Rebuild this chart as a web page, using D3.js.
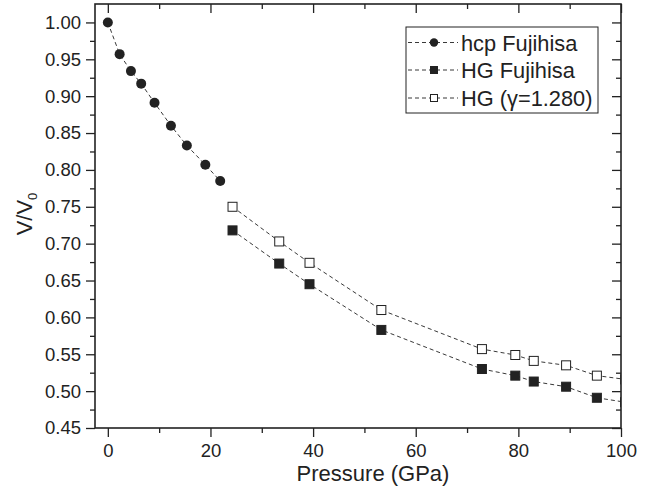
<!DOCTYPE html>
<html><head><meta charset="utf-8">
<script src="https://cdn.jsdelivr.net/npm/d3@7/dist/d3.min.js"></script>
<style>
html,body{margin:0;padding:0;background:#fff;}
text{font-family:"Liberation Sans",Arial,Helvetica,sans-serif;fill:#222;}
</style></head>
<body>
<script>
// Data
const hcpP = [0, 2.3, 4.5, 6.5, 9.1, 12.3, 15.4, 19.0, 21.9];
const hcpV = [1.000, 0.957, 0.934, 0.917, 0.891, 0.860, 0.833, 0.807, 0.785];
const hgP = [24.3, 33.4, 39.3, 53.3, 72.9, 79.4, 83.0, 89.3, 95.3, 100.8];
const hgV = [0.718, 0.673, 0.645, 0.583, 0.530, 0.521, 0.513, 0.506, 0.491, 0.485];
const hggP = [24.3, 33.4, 39.3, 53.3, 72.9, 79.4, 83.0, 89.3, 95.3, 100.8];
const hggV = [0.750, 0.703, 0.674, 0.610, 0.557, 0.549, 0.541, 0.535, 0.521, 0.516];
const xTicks = [0, 20, 40, 60, 80, 100];
const yTicks = [0.45, 0.50, 0.55, 0.60, 0.65, 0.70, 0.75, 0.80, 0.85, 0.90, 0.95, 1.00];
const legendLabels = ["hcp Fujihisa", "HG Fujihisa", "HG (\u03b3=1.280)"];

const W = 659, H = 490;
const L = 95, R = 621, T = 4, B = 428;
const ink = "#222";

const svg = d3.select("body").append("svg").attr("width", W).attr("height", H);
const x = d3.scaleLinear().domain([-2.5, 100]).range([L, R]);
const y = d3.scaleLinear().domain([0.45, 1.025]).range([B, T]);

svg.append("defs").append("clipPath").attr("id", "clip")
  .append("rect").attr("x", L).attr("y", T).attr("width", R - L).attr("height", B - T);

const xMinor = d3.range(0, 101, 10).filter(v => v % 20 !== 0);
const yMinor = d3.range(0, 12).map(i => 0.475 + i * 0.05).filter(v => v < 1.025);

function styleAxis(g) {
  g.select(".domain").remove();
  g.selectAll("line").attr("stroke", ink).attr("stroke-width", 1.3);
  g.selectAll("text").attr("font-size", 18.5).attr("fill", ink)
    .attr("font-family", '"Liberation Sans",Arial,sans-serif');
}

// bottom
svg.append("g").attr("transform", `translate(0,${B})`)
  .call(d3.axisBottom(x).tickValues(xTicks).tickFormat(d3.format("d")).tickSizeInner(9).tickSizeOuter(0).tickPadding(7))
  .call(styleAxis);
svg.append("g").attr("transform", `translate(0,${B})`)
  .call(d3.axisBottom(x).tickValues(xMinor).tickFormat("").tickSizeInner(5).tickSizeOuter(0))
  .call(styleAxis);
// top
svg.append("g").attr("transform", `translate(0,${T})`)
  .call(d3.axisTop(x).tickValues(xTicks).tickFormat("").tickSizeInner(-9).tickSizeOuter(0))
  .call(styleAxis);
svg.append("g").attr("transform", `translate(0,${T})`)
  .call(d3.axisTop(x).tickValues(xMinor).tickFormat("").tickSizeInner(-5).tickSizeOuter(0))
  .call(styleAxis);
// left
svg.append("g").attr("transform", `translate(${L},0)`)
  .call(d3.axisLeft(y).tickValues(yTicks).tickFormat(d3.format(".2f")).tickSizeInner(9).tickSizeOuter(0).tickPadding(5))
  .call(styleAxis);
svg.append("g").attr("transform", `translate(${L},0)`)
  .call(d3.axisLeft(y).tickValues(yMinor).tickFormat("").tickSizeInner(5).tickSizeOuter(0))
  .call(styleAxis);
// right
svg.append("g").attr("transform", `translate(${R},0)`)
  .call(d3.axisRight(y).tickValues(yTicks).tickFormat("").tickSizeInner(-9).tickSizeOuter(0))
  .call(styleAxis);
svg.append("g").attr("transform", `translate(${R},0)`)
  .call(d3.axisRight(y).tickValues(yMinor).tickFormat("").tickSizeInner(-5).tickSizeOuter(0))
  .call(styleAxis);

// frame
svg.append("rect").attr("x", L).attr("y", T).attr("width", R - L).attr("height", B - T)
  .attr("fill", "none").attr("stroke", ink).attr("stroke-width", 1.6);

// series
const plot = svg.append("g").attr("clip-path", "url(#clip)");
const line = d3.line().x(d => x(d[0])).y(d => y(d[1]));
const series = [
  {P: hcpP, V: hcpV, shape: "circle", fill: ink},
  {P: hgP, V: hgV, shape: "square", fill: ink},
  {P: hggP, V: hggV, shape: "square", fill: "#fff"}
];
series.forEach(s => {
  const pts = s.P.map((p, i) => [p, s.V[i]]);
  plot.append("path").datum(pts).attr("d", line).attr("fill", "none")
    .attr("stroke", ink).attr("stroke-width", 0.9).attr("stroke-dasharray", "4,3");
});
series.forEach(s => {
  const pts = s.P.map((p, i) => [p, s.V[i]]);
  if (s.shape === "circle") {
    plot.selectAll(null).data(pts).enter().append("circle")
      .attr("cx", d => x(d[0])).attr("cy", d => y(d[1])).attr("r", 5)
      .attr("fill", s.fill);
  } else {
    plot.selectAll(null).data(pts).enter().append("rect")
      .attr("x", d => x(d[0]) - 4.5).attr("y", d => y(d[1]) - 4.5)
      .attr("width", 9).attr("height", 9)
      .attr("fill", s.fill).attr("stroke", ink).attr("stroke-width", 1);
  }
});

// axis titles
svg.append("text").attr("x", 373).attr("y", 481).attr("text-anchor", "middle")
  .attr("font-size", 22).text("Pressure (GPa)");
const yt = svg.append("text").attr("transform", `translate(32,${(T + B) / 2 - 2}) rotate(-90)`)
  .attr("text-anchor", "middle").attr("font-size", 22);
yt.append("tspan").text("V/V");
yt.append("tspan").attr("font-size", 13).attr("dy", 5).text("0");

// legend
const lg = svg.append("g");
lg.append("rect").attr("x", 406).attr("y", 27).attr("width", 192).attr("height", 86)
  .attr("fill", "#fff").attr("stroke", ink).attr("stroke-width", 1);
const rowsY = [42.5, 70, 98];
series.forEach((s, i) => {
  const cy = rowsY[i];
  lg.append("line").attr("x1", 408).attr("x2", 458).attr("y1", cy).attr("y2", cy)
    .attr("stroke", ink).attr("stroke-width", 0.9).attr("stroke-dasharray", "4,3");
  if (s.shape === "circle") {
    lg.append("circle").attr("cx", 434).attr("cy", cy).attr("r", 4.2).attr("fill", s.fill);
  } else {
    lg.append("rect").attr("x", 430.5).attr("y", cy - 3.5).attr("width", 7).attr("height", 7)
      .attr("fill", s.fill).attr("stroke", ink).attr("stroke-width", 1);
  }
  lg.append("text").attr("x", 461).attr("y", cy + 8).attr("font-size", 21.8).text(legendLabels[i]);
});
</script>
</body></html>
